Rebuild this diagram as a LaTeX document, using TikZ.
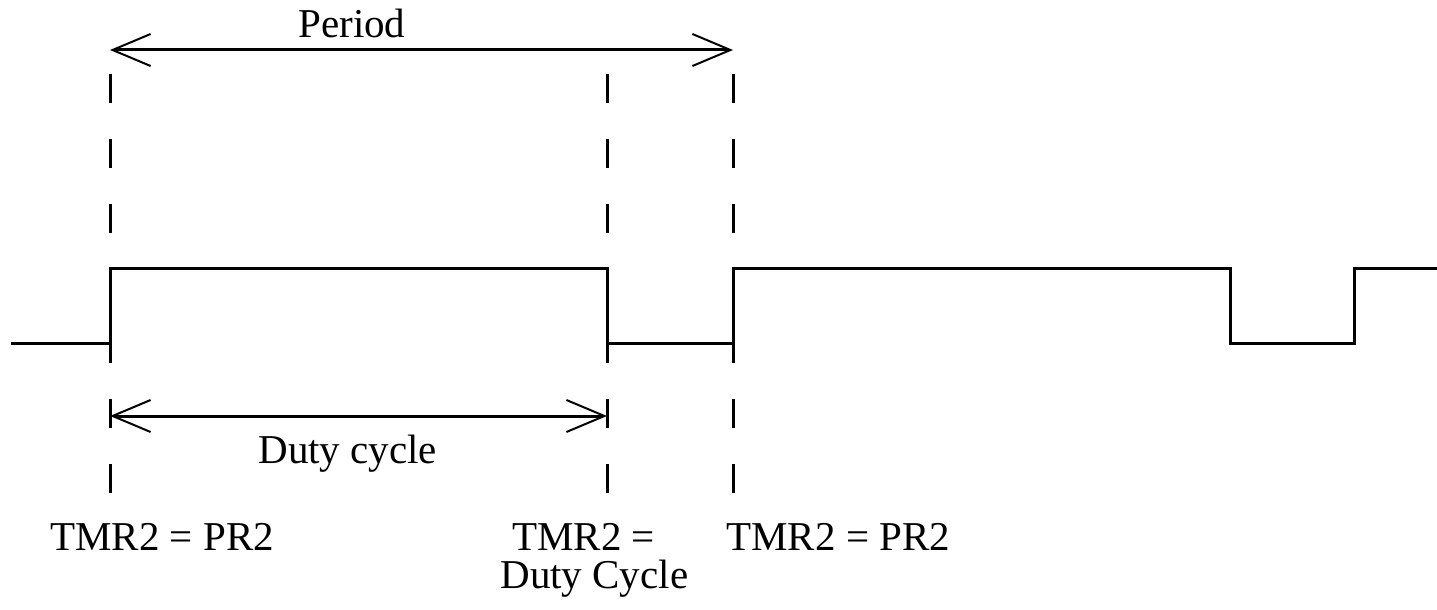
\documentclass[tikz,border=0pt]{standalone}
\usepackage{fontspec}
\setmainfont{Liberation Serif}
\usetikzlibrary{arrows.meta}

\begin{document}
\begin{tikzpicture}[
    x=0.5pt, y=-0.5pt,
    wave/.style={line width=1.5pt, draw=black, line join=miter},
    guide/.style={line width=1.5pt, draw=black, dash pattern=on 14.5pt off 18pt},
    spanarrow/.style={{Straight Barb[length=19pt, width=16pt, line width=1pt]}-{Straight Barb[length=19pt, width=16pt, line width=1pt]}, line width=1.5pt, draw=black},
    lbl/.style={font=\fontsize{20.5pt}{24pt}\selectfont, inner sep=0pt, anchor=base west}
]
    \useasboundingbox (0,0) rectangle (1437,610);

    % Guide lines
    \coordinate (rise1top) at (110,74);  \coordinate (rise1bot) at (110,493);
    \coordinate (fall1top) at (607,74);  \coordinate (fall1bot) at (607,493);
    \coordinate (rise2top) at (733,74);  \coordinate (rise2bot) at (733,493);
    \draw[guide] (rise1top) -- (rise1bot);
    \draw[guide] (fall1top) -- (fall1bot);
    \draw[guide] (rise2top) -- (rise2bot);

    % PWM waveform
    \draw[wave] (11,343) -- (110,343) -- (110,269) -- (607,269) -- (607,343)
        -- (733,343) -- (733,269) -- (1230,269) -- (1230,343) -- (1354,343)
        -- (1354,269) -- (1437,269);

    % Period
    \coordinate (perL) at (110,50);
    \coordinate (perR) at (733,50);
    \draw[spanarrow] (perL) -- (perR);
    \node[lbl] (period) at (298,38) {Period};

    % Duty cycle
    \coordinate (dutyL) at (110,416);
    \coordinate (dutyR) at (607,416);
    \draw[spanarrow] (dutyL) -- (dutyR);
    \node[lbl] (duty) at (258,463) {Duty cycle};

    % Timer events
    \node[lbl] (evt1) at (50,550) {TMR2 = PR2};
    \node[lbl] (evt2) at (512,550) {TMR2 =};
    \node[lbl] (evt2b) at (500,588) {Duty Cycle};
    \node[lbl] (evt3) at (726,550) {TMR2 = PR2};

\end{tikzpicture}
\end{document}
